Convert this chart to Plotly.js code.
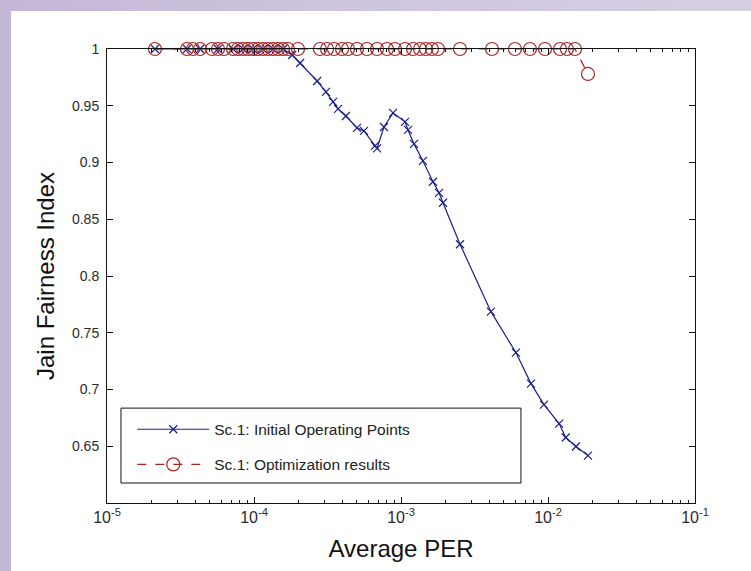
<!DOCTYPE html>
<html>
<head>
<meta charset="utf-8">
<script src="https://cdn.plot.ly/plotly-3.0.1.min.js"></script>
<style>
html, body { margin:0; padding:0; width:751px; height:571px; overflow:hidden;
  background: linear-gradient(90deg, #c3b6d6 0%, #cdc3dd 40%, #d6cfe3 100%); }
#chart { position:absolute; left:11px; top:11px; width:740px; height:560px; background:#fff; }
</style>
</head>
<body>
<div id="chart"></div>
<script>
// Series 1: Initial Operating Points (blue, x markers)
const initPER = [2.12e-5, 3.5e-5, 4.29e-5, 5.69e-5, 7.2e-5, 8.42e-5, 9.84e-5, 1.151e-4, 1.346e-4, 1.575e-4,
  1.82e-4, 2.06e-4, 2.69e-4, 3.09e-4, 3.45e-4, 3.73e-4, 4.22e-4, 5.02e-4, 5.6e-4, 6.65e-4, 6.87e-4,
  7.66e-4, 8.83e-4, 1.065e-3, 1.116e-3, 1.226e-3, 1.41e-3, 1.65e-3, 1.815e-3, 1.93e-3,
  2.52e-3, 4.09e-3, 6.05e-3, 7.66e-3, 9.39e-3, 1.19e-2, 1.32e-2, 1.55e-2, 1.87e-2];
const initJFI = [1, 1, 1, 1, 1, 1, 1, 1, 1, 1,
  0.9947, 0.9877, 0.9718, 0.9622, 0.9534, 0.9472, 0.941, 0.9305, 0.9278, 0.9146, 0.9125,
  0.9313, 0.9437, 0.9358, 0.9287, 0.9164, 0.9014, 0.883, 0.8733, 0.8645,
  0.828, 0.7686, 0.7325, 0.7052, 0.6867, 0.670, 0.6577, 0.6498, 0.6418];

// Series 2: Optimization results (red, circles)
const optPER = [2.12e-5, 3.5e-5, 3.85e-5, 4.29e-5, 5.18e-5, 5.69e-5, 6.25e-5, 7.2e-5, 7.78e-5, 8.42e-5,
  9.1e-5, 9.84e-5, 1.065e-4, 1.151e-4, 1.245e-4, 1.346e-4, 1.456e-4, 1.575e-4, 1.703e-4, 1.992e-4,
  2.81e-4, 3.14e-4, 3.5e-4, 3.97e-4, 4.36e-4, 5.02e-4, 5.87e-4, 6.87e-4, 8.03e-4, 9.1e-4,
  1.065e-3, 1.207e-3, 1.346e-3, 1.48e-3, 1.625e-3, 1.785e-3, 2.52e-3, 4.16e-3, 5.96e-3, 7.54e-3,
  9.54e-3, 1.207e-2, 1.346e-2, 1.527e-2, 1.87e-2];
const optJFI = [1, 1, 1, 1, 1, 1, 1, 1, 1, 1,
  1, 1, 1, 1, 1, 1, 1, 1, 1, 1,
  1, 1, 1, 1, 1, 1, 1, 1, 1, 1,
  1, 1, 1, 1, 1, 1, 1, 1, 1, 1,
  1, 1, 1, 1, 0.978];

const seriesNames = ["Sc.1: Initial Operating Points", "Sc.1: Optimization results"];
const yTickVals = [0.65, 0.7, 0.75, 0.8, 0.85, 0.9, 0.95, 1];
const yTickText = ["0.65", "0.7", "0.75", "0.8", "0.85", "0.9", "0.95", "1"];
const xTickVals = [1e-5, 1e-4, 1e-3, 1e-2, 1e-1];
const xTickText = ["10<sup>-5</sup>", "10<sup>-4</sup>", "10<sup>-3</sup>", "10<sup>-2</sup>", "10<sup>-1</sup>"];

const traces = [
  { x: initPER, y: initJFI, name: seriesNames[0], legendgroup: 'a', type: 'scatter', mode: 'lines+markers', cliponaxis: false,
    line: { color: '#1c1f8a', width: 1.2 },
    marker: { symbol: 'x-thin-open', size: 8, color: '#1c1f8a', line: { color: '#1c1f8a', width: 1.2 } } },
  { x: optPER, y: optJFI, name: seriesNames[1], legendgroup: 'b', type: 'scatter', mode: 'lines+markers', cliponaxis: false,
    line: { color: '#aa2626', width: 1.2, dash: 'dash' },
    marker: { symbol: 'circle-open', size: 13, color: '#aa2626', line: { color: '#aa2626', width: 1.2 } } }
];

const axisFont = { family: 'Liberation Sans, Arial, sans-serif', size: 14, color: '#2a2a2a' };

const layout = {
  width: 740, height: 560,
  margin: { l: 96, r: 56, t: 38, b: 68 },
  paper_bgcolor: '#ffffff', plot_bgcolor: '#ffffff',
  showlegend: true,
  legend: { x: 0.043, y: 0.199, xanchor: 'left', yanchor: 'top',
    bgcolor: 'rgba(0,0,0,0)', borderwidth: 0, itemwidth: 72,
    font: { family: 'Liberation Sans, Arial, sans-serif', size: 15.5, color: '#222' },
    tracegroupgap: 12 },
  shapes: [
    { type: 'rect', xref: 'paper', yref: 'paper', x0: 0.0238, x1: 0.704, y0: 0.044, y1: 0.209,
      line: { color: '#111', width: 1 }, fillcolor: '#ffffff', layer: 'above' }
  ],
  xaxis: {
    type: 'log', range: [-5, -1],
    tickvals: xTickVals, ticktext: xTickText,
    ticks: 'inside', ticklen: 6, tickcolor: '#111', tickwidth: 1,
    showline: true, linecolor: '#111', linewidth: 1, mirror: 'ticks',
    showgrid: false, zeroline: false, tickfont: { family: 'Liberation Sans, Arial, sans-serif', size: 16, color: '#2a2a2a' },
    minor: { ticks: 'inside', ticklen: 3, tickcolor: '#111', dtick: 'D1', showgrid: false },
    title: { text: 'Average PER', font: { family: 'Liberation Sans, Arial, sans-serif', size: 24, color: '#111' }, standoff: 14 }
  },
  yaxis: {
    range: [0.6, 1],
    tickvals: yTickVals, ticktext: yTickText,
    ticks: 'inside', ticklen: 6, tickcolor: '#111', tickwidth: 1,
    showline: true, linecolor: '#111', linewidth: 1, mirror: 'ticks',
    showgrid: false, zeroline: false, tickfont: axisFont, ticklabelstandoff: 4,
    title: { text: 'Jain Fairness Index', font: { family: 'Liberation Sans, Arial, sans-serif', size: 24, color: '#111' }, standoff: 10 }
  }
};

Plotly.newPlot('chart', traces, layout, { displayModeBar: false, staticPlot: true });
</script>
</body>
</html>
